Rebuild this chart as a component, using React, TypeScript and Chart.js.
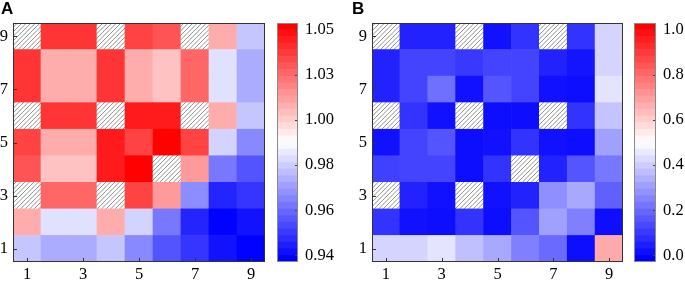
import React, { useEffect, useRef } from "react";
import { Chart, registerables } from "chart.js";

Chart.register(...registerables);

// ---------- data ----------
const xLabels = ["1", "2", "3", "4", "5", "6", "7", "8", "9"];
const yRows = [1, 2, 3, 4, 5, 6, 7, 8, 9];
const shownTicks = [1, 3, 5, 7, 9];

// Panel A values, rows y = 1..9, columns x = 1..9 (null = hatched)
const valuesA: (number | null)[][] = [
  [0.982, 0.976, 0.976, 0.982, 0.968, 0.956, 0.949, 0.941, 0.937],
  [1.014, 0.988, 0.988, 1.014, 0.985, 0.964, 0.945, 0.937, 0.941],
  [null, 1.03, 1.03, null, 1.038, 1.018, 0.969, 0.945, 0.949],
  [1.034, 1.009, 1.009, 1.047, 1.053, null, 1.018, 0.964, 0.956],
  [1.038, 1.014, 1.014, 1.047, 1.038, 1.053, 1.038, 0.985, 0.968],
  [null, 1.041, 1.041, null, 1.047, 1.047, null, 1.014, 0.982],
  [1.041, 1.014, 1.014, 1.041, 1.014, 1.009, 1.03, 0.988, 0.976],
  [1.041, 1.014, 1.014, 1.041, 1.014, 1.009, 1.03, 0.988, 0.976],
  [null, 1.041, 1.041, null, 1.038, 1.034, null, 1.014, 0.982],
];

// Panel B values, rows y = 1..9, columns x = 1..9 (null = hatched)
const valuesB: (number | null)[][] = [
  [0.411, 0.411, 0.444, 0.369, 0.32, 0.236, 0.191, 0.0, 0.677],
  [0.077, 0.006, 0.0, 0.077, 0.0, 0.148, 0.303, 0.236, 0.0],
  [null, 0.042, 0.006, null, 0.006, 0.042, 0.267, 0.32, 0.17],
  [0.103, 0.112, 0.112, 0.0, 0.077, null, 0.042, 0.148, 0.218],
  [0.006, 0.112, 0.148, 0.0, 0.006, 0.077, 0.006, 0.0, 0.303],
  [null, 0.077, 0.006, null, 0.0, 0.0, null, 0.077, 0.377],
  [0.042, 0.112, 0.204, 0.006, 0.148, 0.112, 0.006, 0.0, 0.444],
  [0.042, 0.112, 0.112, 0.087, 0.112, 0.112, 0.042, 0.013, 0.411],
  [null, 0.042, 0.042, null, 0.006, 0.077, null, 0.077, 0.411],
];

const rangeA = [0.9368, 1.0532];
const rangeB = [-0.029, 1.029];
const cbTicksA = [0.94, 0.962, 0.984, 1.006, 1.028, 1.05];
const cbLabelsA = ["0.94", "0.96", "0.98", "1.00", "1.03", "1.05"];
const cbTicksB = [0.0, 0.2, 0.4, 0.6, 0.8, 1.0];
const cbLabelsB = ["0.0", "0.2", "0.4", "0.6", "0.8", "1.0"];
const colorBands = 36;

// ---------- helpers ----------
function bwr(t: number): string {
  const c = Math.max(0, Math.min(1, t));
  if (c <= 0.5) {
    const v = Math.round(c * 2 * 255);
    return `rgb(${v},${v},255)`;
  }
  const v = Math.round((2 - 2 * c) * 255);
  return `rgb(255,${v},${v})`;
}

function makeHatch(): CanvasPattern | string {
  const s = 4.5;
  const n = 9;
  const pc = document.createElement("canvas");
  pc.width = n;
  pc.height = n;
  const g = pc.getContext("2d");
  if (!g) return "#fff";
  g.fillStyle = "#ffffff";
  g.fillRect(0, 0, n, n);
  g.strokeStyle = "#7a7a7a";
  g.lineWidth = 0.8;
  g.beginPath();
  for (let k = -2; k <= 4; k++) {
    const o = k * s;
    g.moveTo(o - 2, n + 2);
    g.lineTo(o + n + 2, -2);
  }
  g.stroke();
  const p = g.createPattern(pc, "repeat");
  return p || "#fff";
}

const FONT = { family: "'Liberation Serif', 'Times New Roman', serif", size: 16.5 };

const heatFramePlugin = {
  id: "heatFrame",
  afterDatasetsDraw(chart: any) {
    const { ctx, chartArea } = chart;
    const xs = chart.scales.x;
    const ys = chart.scales.y;
    ctx.save();
    ctx.strokeStyle = "#333";
    ctx.lineWidth = 1;
    ctx.beginPath();
    for (const v of shownTicks) {
      const px = Math.round(xs.getPixelForValue(v - 1)) + 0.5;
      ctx.moveTo(px, chartArea.bottom);
      ctx.lineTo(px, chartArea.bottom - 4);
      const py = Math.round(ys.getPixelForValue(v)) + 0.5;
      ctx.moveTo(chartArea.left, py);
      ctx.lineTo(chartArea.left + 4, py);
    }
    ctx.stroke();
    ctx.strokeRect(
      Math.round(chartArea.left) + 0.5,
      Math.round(chartArea.top) + 0.5,
      Math.round(chartArea.right - chartArea.left) - 1,
      Math.round(chartArea.bottom - chartArea.top) - 1
    );
    ctx.restore();
  },
};

const cbFramePlugin = {
  id: "cbFrame",
  afterDatasetsDraw(chart: any) {
    const { ctx, chartArea } = chart;
    const ys = chart.scales.y;
    ctx.save();
    ctx.strokeStyle = "#444";
    ctx.lineWidth = 1;
    ctx.beginPath();
    for (const t of ys.ticks) {
      const py = Math.round(ys.getPixelForValue(t.value)) + 0.5;
      ctx.moveTo(chartArea.right, py);
      ctx.lineTo(chartArea.right - 3, py);
    }
    ctx.stroke();
    ctx.strokeStyle = "#8a8a8a";
    ctx.strokeRect(
      Math.round(chartArea.left) + 0.5,
      Math.round(chartArea.top) + 0.5,
      Math.round(chartArea.right - chartArea.left) - 1,
      Math.round(chartArea.bottom - chartArea.top) - 1
    );
    ctx.restore();
  },
};

function HeatMap({ values, range, left, yAxisWidth }: any) {
  const ref = useRef<HTMLCanvasElement>(null);
  useEffect(() => {
    if (!ref.current) return;
    const hatch = makeHatch();
    const [vmin, vmax] = range;
    const datasets = yRows.map((yv, ri) => ({
      label: `row ${yv}`,
      data: xLabels.map(() => [yv - 0.5, yv + 0.5]),
      backgroundColor: values[ri].map((v: number | null) =>
        v === null ? hatch : bwr((v - vmin) / (vmax - vmin))
      ),
      borderWidth: 0,
      grouped: false,
      categoryPercentage: 1,
      barPercentage: 1,
    }));
    const chart = new Chart(ref.current, {
      type: "bar",
      data: { labels: xLabels, datasets: datasets as any },
      options: {
        animation: false,
        responsive: false,
        events: [],
        layout: { padding: { top: 23, right: 5, left: 0, bottom: 0 } },
        plugins: { legend: { display: false }, tooltip: { enabled: false } },
        scales: {
          x: {
            type: "category",
            offset: true,
            grid: { display: false, drawTicks: false },
            border: { display: false },
            ticks: {
              autoSkip: false,
              maxRotation: 0,
              padding: 3,
              color: "#000",
              font: FONT,
              callback: (_v: any, i: number) => (i % 2 === 0 ? xLabels[i] : ""),
            },
            afterFit: (s: any) => {
              s.height = 21;
            },
          },
          y: {
            type: "linear",
            min: 0.5,
            max: 9.5,
            grid: { display: false, drawTicks: false },
            border: { display: false },
            ticks: { padding: 5, color: "#000", font: FONT },
            afterBuildTicks: (s: any) => {
              s.ticks = shownTicks.map((v) => ({ value: v }));
            },
            afterFit: (s: any) => {
              s.width = yAxisWidth;
            },
          },
        },
      },
      plugins: [heatFramePlugin],
    });
    return () => chart.destroy();
  }, []);
  return (
    <canvas
      ref={ref}
      width={270}
      height={283}
      style={{ position: "absolute", left, top: 0, width: 270, height: 283 }}
    />
  );
}

function ColorBar({ range, ticks, labels, left, width, axisWidth }: any) {
  const ref = useRef<HTMLCanvasElement>(null);
  useEffect(() => {
    if (!ref.current) return;
    const [vmin, vmax] = range;
    const step = (vmax - vmin) / colorBands;
    const datasets = Array.from({ length: colorBands }, (_, i) => ({
      label: `band ${i}`,
      data: [[vmin + i * step, vmin + (i + 1) * step]],
      backgroundColor: bwr(i / (colorBands - 1)),
      borderWidth: 0,
      grouped: false,
      categoryPercentage: 1,
      barPercentage: 1,
    }));
    const chart = new Chart(ref.current, {
      type: "bar",
      data: { labels: ["cb"], datasets: datasets as any },
      options: {
        animation: false,
        responsive: false,
        events: [],
        layout: { padding: { top: 23, right: 0, left: 5, bottom: 21 } },
        plugins: { legend: { display: false }, tooltip: { enabled: false } },
        scales: {
          x: { display: false, offset: true },
          y: {
            type: "linear",
            position: "right",
            min: vmin,
            max: vmax,
            grid: { display: false, drawTicks: false },
            border: { display: false },
            ticks: {
              padding: 7,
              color: "#000",
              font: FONT,
              callback: (_v: any, i: number) => labels[i],
            },
            afterBuildTicks: (s: any) => {
              s.ticks = ticks.map((v: number) => ({ value: v }));
            },
            afterFit: (s: any) => {
              s.width = axisWidth;
            },
          },
        },
      },
      plugins: [cbFramePlugin],
    });
    return () => chart.destroy();
  }, []);
  return (
    <canvas
      ref={ref}
      width={width}
      height={283}
      style={{ position: "absolute", left, top: 0, width, height: 283 }}
    />
  );
}

const letterStyle: React.CSSProperties = {
  position: "absolute",
  top: -1,
  fontFamily: "'Liberation Sans', Arial, sans-serif",
  fontWeight: "bold",
  fontSize: 17,
  lineHeight: "20px",
  color: "#000",
};

export default function App() {
  return (
    <div
      style={{
        position: "absolute",
        left: 0,
        top: 0,
        width: 685,
        height: 283,
        background: "#fff",
        overflow: "hidden",
      }}
    >
      <HeatMap values={valuesA} range={rangeA} left={0} yAxisWidth={13} />
      <ColorBar range={rangeA} ticks={cbTicksA} labels={cbLabelsA} left={272} width={68} axisWidth={42} />
      <HeatMap values={valuesB} range={rangeB} left={358} yAxisWidth={14} />
      <ColorBar range={rangeB} ticks={cbTicksB} labels={cbLabelsB} left={629} width={56} axisWidth={29} />
      <div style={{ ...letterStyle, left: 1 }}>A</div>
      <div style={{ ...letterStyle, left: 352 }}>B</div>
    </div>
  );
}
